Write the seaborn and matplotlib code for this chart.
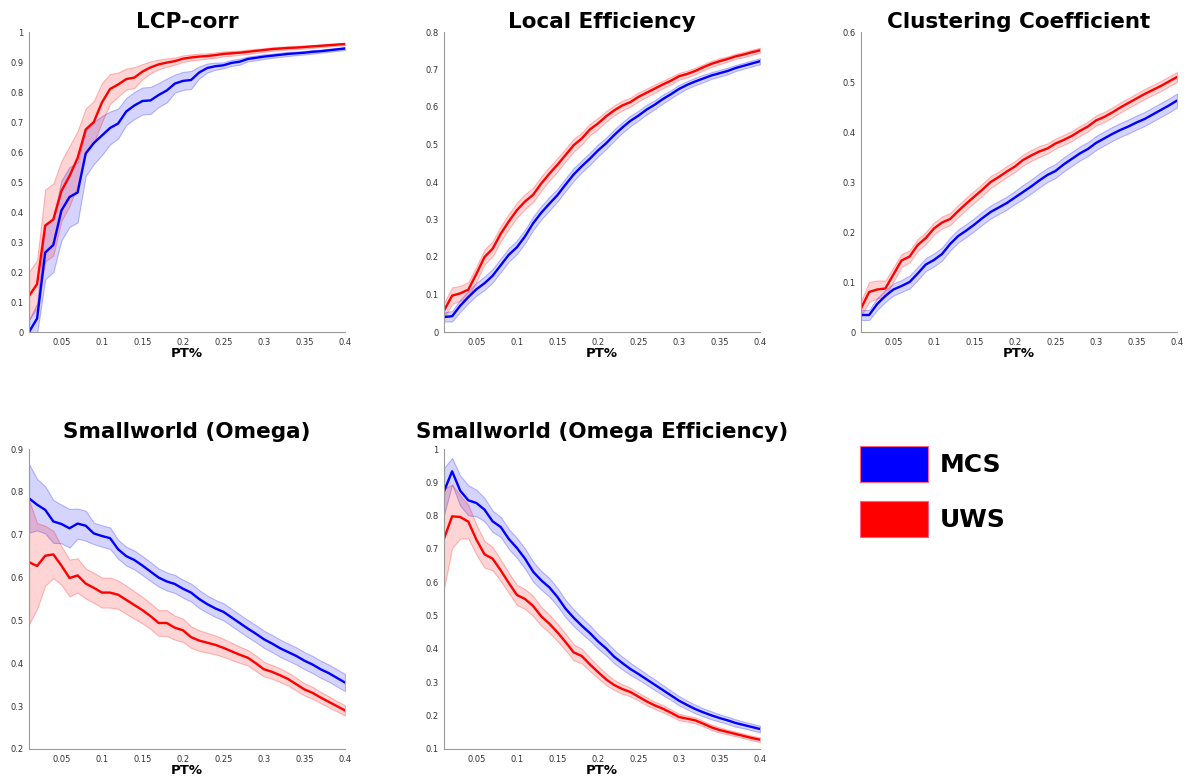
import numpy as np
import pandas as pd
import matplotlib
matplotlib.use("Agg")
import matplotlib.pyplot as plt
from matplotlib.patches import Patch
from matplotlib.ticker import FuncFormatter, MultipleLocator
import seaborn as sns

########################################################################
# data (mean curves and half-width of bands)
########################################################################
pt = [round(0.01 * i, 2) for i in range(1, 41)]

lcp_mcs = [0.0, 0.045, 0.265, 0.29, 0.405, 0.45, 0.465, 0.595, 0.63, 0.655,
           0.68, 0.695, 0.735, 0.755, 0.77, 0.772, 0.79, 0.805, 0.828, 0.837,
           0.84, 0.865, 0.88, 0.886, 0.889, 0.897, 0.901, 0.91, 0.914, 0.918,
           0.921, 0.924, 0.927, 0.929, 0.931, 0.934, 0.936, 0.939, 0.942, 0.945]
lcp_mcs_err = [0.04, 0.05, 0.09, 0.09, 0.1, 0.1, 0.1, 0.075, 0.07, 0.065,
               0.055, 0.05, 0.045, 0.045, 0.045, 0.045, 0.04, 0.04, 0.03, 0.03,
               0.03, 0.02, 0.015, 0.012, 0.01, 0.01, 0.01, 0.008, 0.008, 0.008,
               0.007, 0.007, 0.007, 0.006, 0.006, 0.006, 0.005, 0.005, 0.005, 0.005]
lcp_uws = [0.12, 0.16, 0.355, 0.375, 0.47, 0.52, 0.58, 0.675, 0.70, 0.765,
           0.81, 0.825, 0.843, 0.848, 0.868, 0.882, 0.892, 0.898, 0.903, 0.911,
           0.915, 0.918, 0.92, 0.923, 0.927, 0.929, 0.931, 0.934, 0.937, 0.94,
           0.943, 0.945, 0.947, 0.948, 0.95, 0.952, 0.954, 0.956, 0.958, 0.96]
lcp_uws_err = [0.08, 0.08, 0.12, 0.12, 0.1, 0.1, 0.09, 0.07, 0.07, 0.065,
               0.05, 0.04, 0.035, 0.035, 0.025, 0.02, 0.016, 0.014, 0.012, 0.011,
               0.01, 0.01, 0.009, 0.009, 0.008, 0.008, 0.007, 0.007, 0.007, 0.006,
               0.006, 0.006, 0.005, 0.005, 0.005, 0.005, 0.004, 0.004, 0.004, 0.004]

le_mcs = [0.04, 0.042, 0.07, 0.093, 0.114, 0.13, 0.15, 0.178, 0.206, 0.226,
          0.255, 0.29, 0.318, 0.342, 0.365, 0.393, 0.42, 0.442, 0.462, 0.484,
          0.503, 0.525, 0.545, 0.563, 0.577, 0.593, 0.606, 0.621, 0.634, 0.648,
          0.659, 0.668, 0.676, 0.684, 0.69, 0.696, 0.704, 0.71, 0.716, 0.722]
le_mcs_err = [0.012, 0.014, 0.016, 0.016, 0.017, 0.018, 0.018, 0.018, 0.018, 0.018,
              0.018, 0.018, 0.018, 0.018, 0.017, 0.017, 0.017, 0.016, 0.016, 0.016,
              0.015, 0.015, 0.014, 0.014, 0.013, 0.013, 0.012, 0.012, 0.011, 0.011,
              0.01, 0.01, 0.01, 0.009, 0.009, 0.009, 0.008, 0.008, 0.008, 0.008]
le_uws = [0.057, 0.097, 0.103, 0.113, 0.155, 0.2, 0.222, 0.262, 0.295, 0.325,
          0.348, 0.366, 0.396, 0.422, 0.446, 0.472, 0.498, 0.516, 0.54, 0.556,
          0.575, 0.591, 0.604, 0.613, 0.627, 0.638, 0.649, 0.66, 0.67, 0.682,
          0.688, 0.696, 0.706, 0.715, 0.722, 0.728, 0.735, 0.74, 0.746, 0.751]
le_uws_err = [0.02, 0.022, 0.02, 0.02, 0.02, 0.02, 0.02, 0.02, 0.02, 0.02,
              0.02, 0.019, 0.019, 0.018, 0.018, 0.017, 0.017, 0.016, 0.015, 0.015,
              0.014, 0.013, 0.013, 0.012, 0.012, 0.011, 0.011, 0.01, 0.01, 0.009,
              0.009, 0.009, 0.008, 0.008, 0.008, 0.007, 0.007, 0.007, 0.007, 0.007]

cc_mcs = [0.034, 0.034, 0.056, 0.072, 0.085, 0.092, 0.1, 0.117, 0.135, 0.144,
          0.156, 0.176, 0.192, 0.203, 0.215, 0.228, 0.24, 0.249, 0.258, 0.269,
          0.28, 0.291, 0.303, 0.314, 0.322, 0.335, 0.346, 0.357, 0.366, 0.378,
          0.387, 0.396, 0.404, 0.411, 0.419, 0.426, 0.435, 0.444, 0.453, 0.463]
cc_mcs_err = [0.01, 0.01, 0.012, 0.012, 0.012, 0.012, 0.013, 0.013, 0.013, 0.013,
              0.013, 0.013, 0.013, 0.013, 0.013, 0.013, 0.013, 0.013, 0.013, 0.013,
              0.014, 0.014, 0.014, 0.014, 0.014, 0.014, 0.014, 0.014, 0.014, 0.014,
              0.014, 0.014, 0.014, 0.014, 0.014, 0.014, 0.014, 0.014, 0.014, 0.014]
cc_uws = [0.047, 0.08, 0.085, 0.087, 0.115, 0.143, 0.151, 0.174, 0.188, 0.207,
          0.219, 0.226, 0.242, 0.257, 0.271, 0.285, 0.3, 0.31, 0.321, 0.331,
          0.344, 0.353, 0.361, 0.367, 0.377, 0.384, 0.392, 0.402, 0.411, 0.423,
          0.43, 0.439, 0.449, 0.458, 0.467, 0.476, 0.484, 0.492, 0.501, 0.51]
cc_uws_err = [0.015, 0.02, 0.018, 0.016, 0.014, 0.013, 0.012, 0.012, 0.012, 0.012,
              0.012, 0.012, 0.012, 0.012, 0.012, 0.012, 0.012, 0.011, 0.011, 0.011,
              0.011, 0.011, 0.011, 0.01, 0.01, 0.01, 0.01, 0.01, 0.01, 0.01,
              0.01, 0.01, 0.01, 0.01, 0.01, 0.01, 0.01, 0.01, 0.01, 0.01]

om_mcs = [0.785, 0.77, 0.758, 0.731, 0.725, 0.715, 0.726, 0.721, 0.703, 0.697,
          0.692, 0.666, 0.65, 0.641, 0.628, 0.614, 0.6, 0.591, 0.585, 0.574,
          0.565, 0.55, 0.538, 0.528, 0.52, 0.507, 0.494, 0.481, 0.469, 0.456,
          0.446, 0.435, 0.426, 0.417, 0.406, 0.397, 0.386, 0.377, 0.366, 0.355]
om_mcs_err = [0.08, 0.06, 0.055, 0.05, 0.045, 0.045, 0.035, 0.035, 0.025, 0.025,
              0.025, 0.022, 0.022, 0.022, 0.022, 0.022, 0.021, 0.021, 0.021, 0.021,
              0.021, 0.021, 0.02, 0.02, 0.02, 0.02, 0.02, 0.02, 0.02, 0.02,
              0.02, 0.02, 0.02, 0.02, 0.02, 0.02, 0.02, 0.02, 0.02, 0.02]
om_uws = [0.636, 0.627, 0.651, 0.654, 0.628, 0.599, 0.605, 0.586, 0.576, 0.565,
          0.565, 0.56, 0.548, 0.536, 0.524, 0.51, 0.494, 0.494, 0.483, 0.477,
          0.461, 0.453, 0.448, 0.443, 0.436, 0.428, 0.42, 0.413, 0.4, 0.386,
          0.38, 0.372, 0.363, 0.351, 0.339, 0.331, 0.32, 0.31, 0.3, 0.29]
om_uws_err = [0.145, 0.1, 0.07, 0.055, 0.045, 0.043, 0.04, 0.035, 0.035, 0.035,
              0.035, 0.033, 0.033, 0.032, 0.031, 0.03, 0.03, 0.03, 0.028, 0.027,
              0.025, 0.024, 0.023, 0.022, 0.021, 0.02, 0.019, 0.018, 0.018, 0.017,
              0.016, 0.016, 0.015, 0.015, 0.014, 0.014, 0.013, 0.013, 0.012, 0.012]

oe_mcs = [0.873, 0.933, 0.875, 0.846, 0.838, 0.818, 0.783, 0.766, 0.73, 0.703,
          0.671, 0.632, 0.606, 0.585, 0.556, 0.521, 0.494, 0.47, 0.448, 0.423,
          0.402, 0.377, 0.358, 0.34, 0.325, 0.309, 0.293, 0.277, 0.261, 0.245,
          0.232, 0.22, 0.21, 0.201, 0.193, 0.186, 0.178, 0.172, 0.166, 0.16]
oe_mcs_err = [0.07, 0.04, 0.045, 0.045, 0.04, 0.035, 0.032, 0.03, 0.03, 0.03,
              0.03, 0.03, 0.028, 0.028, 0.027, 0.026, 0.025, 0.024, 0.023, 0.022,
              0.021, 0.02, 0.019, 0.018, 0.017, 0.016, 0.016, 0.015, 0.014, 0.014,
              0.013, 0.013, 0.012, 0.012, 0.011, 0.011, 0.011, 0.01, 0.01, 0.01]
oe_uws = [0.731, 0.798, 0.796, 0.782, 0.728, 0.684, 0.671, 0.636, 0.598, 0.562,
          0.55, 0.529, 0.498, 0.476, 0.45, 0.421, 0.39, 0.379, 0.354, 0.331,
          0.309, 0.292, 0.28, 0.271, 0.257, 0.243, 0.231, 0.221, 0.209, 0.196,
          0.191, 0.186, 0.176, 0.165, 0.157, 0.151, 0.145, 0.139, 0.133, 0.128]
oe_uws_err = [0.15, 0.095, 0.065, 0.05, 0.045, 0.04, 0.035, 0.032, 0.03, 0.03,
              0.03, 0.03, 0.028, 0.027, 0.026, 0.025, 0.024, 0.022, 0.02, 0.018,
              0.017, 0.015, 0.014, 0.013, 0.012, 0.012, 0.011, 0.011, 0.01, 0.01,
              0.009, 0.009, 0.008, 0.008, 0.008, 0.007, 0.007, 0.007, 0.007, 0.007]

titles = ["LCP-corr", "Local Efficiency", "Clustering Coefficient",
          "Smallworld (Omega)", "Smallworld (Omega Efficiency)"]
groups = ["MCS", "UWS"]
ylims = [(0, 1), (0, 0.8), (0, 0.6), (0.2, 0.9), (0.1, 1)]

panels = [
    (lcp_mcs, lcp_mcs_err, lcp_uws, lcp_uws_err),
    (le_mcs, le_mcs_err, le_uws, le_uws_err),
    (cc_mcs, cc_mcs_err, cc_uws, cc_uws_err),
    (om_mcs, om_mcs_err, om_uws, om_uws_err),
    (oe_mcs, oe_mcs_err, oe_uws, oe_uws_err),
]

########################################################################
# layout (figure fractions)
########################################################################
W, H = 1190, 778
lefts = [29, 444, 861, 29, 444]
tops = [32, 32, 32, 449, 449]
aw, ah = 316, 300

sns.set_style("white")
plt.rcParams["font.family"] = ["DejaVu Sans"]
plt.rcParams["text.color"] = "black"
plt.rcParams["axes.labelcolor"] = "black"

fig = plt.figure(figsize=(W / 100, H / 100), dpi=100)
colors = {"MCS": "#0000ff", "UWS": "#ff0000"}

for i, (title, ylim, data) in enumerate(zip(titles, ylims, panels)):
    ax = fig.add_axes([lefts[i] / W, 1 - (tops[i] + ah) / H, aw / W, ah / H])
    mcs, mcs_err, uws, uws_err = data
    for g, vals, err in [("MCS", mcs, mcs_err), ("UWS", uws, uws_err)]:
        v = np.array(vals)
        e = np.array(err)
        c = colors[g]
        ax.fill_between(pt, v - e, v + e, facecolor=matplotlib.colors.to_rgba(c, 0.17),
                        edgecolor=matplotlib.colors.to_rgba(c, 0.25), linewidth=0.8)
        df = pd.DataFrame({"PT": pt, "val": vals})
        sns.lineplot(data=df, x="PT", y="val", color=c, linewidth=1.7, ax=ax)
    ax.set_xlim(0.01, 0.4)
    ax.set_ylim(*ylim)
    ax.xaxis.set_major_locator(MultipleLocator(0.05))
    ax.yaxis.set_major_locator(MultipleLocator(0.1))
    fmt = FuncFormatter(lambda x, p: "%g" % round(x, 3))
    ax.xaxis.set_major_formatter(fmt)
    ax.yaxis.set_major_formatter(fmt)
    ax.tick_params(direction="in", length=3, width=0.6, colors="#808080",
                   labelcolor="#333333", labelsize=6, pad=4)
    for s in ["top", "right"]:
        ax.spines[s].set_visible(False)
    for s in ["left", "bottom"]:
        ax.spines[s].set_color("#9a9a9a")
        ax.spines[s].set_linewidth(0.8)
    ax.set_xlabel("PT%", fontsize=9.5, fontweight="bold", labelpad=0, color="black")
    ax.set_ylabel("")
    ax.set_title(title, fontsize=15.5, fontweight="bold", color="black",
                 pad=3 if i < 3 else 8)

handles = [Patch(facecolor=colors[g], edgecolor="#ff6080", linewidth=0.8) for g in groups]
leg = fig.legend(handles, groups, loc="upper left", bbox_to_anchor=(860 / W, 1 - 446 / H),
                 frameon=False, prop={"size": 18, "weight": "bold"},
                 handlelength=2.7, handleheight=1.84, handletextpad=0.5,
                 labelspacing=0.75, borderpad=0, borderaxespad=0)
for t in leg.get_texts():
    t.set_color("black")

fig.savefig("out.png", dpi=100)
